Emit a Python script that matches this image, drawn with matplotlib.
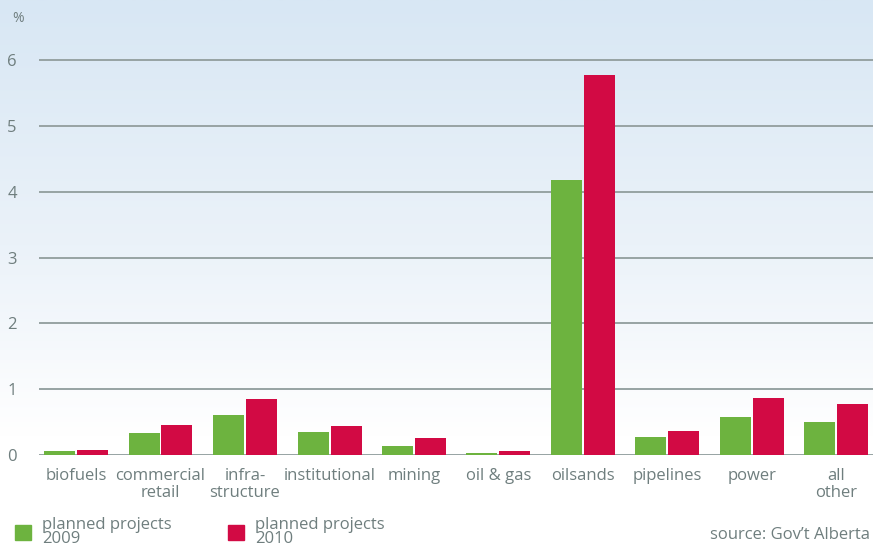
import numpy as np
import matplotlib
matplotlib.use("Agg")
import matplotlib.pyplot as plt
from matplotlib.patches import Rectangle
from matplotlib.colors import LinearSegmentedColormap

categories = ["biofuels", "commercial\nretail", "infra-\nstructure", "institutional",
              "mining", "oil & gas", "oilsands", "pipelines", "power", "all\nother"]
values_2009 = [0.06, 0.34, 0.61, 0.35, 0.14, 0.03, 4.18, 0.27, 0.58, 0.50]
values_2010 = [0.08, 0.46, 0.85, 0.44, 0.26, 0.06, 5.77, 0.36, 0.87, 0.78]
yticks = [0, 1, 2, 3, 4, 5, 6]
series_labels = ["planned projects\n2009", "planned projects\n2010"]

GREEN = "#6db33f"
RED = "#d20a44"
TXT = "#6f7e7e"
GRID = "#97a3a3"
FONT = ["Open Sans", "DejaVu Sans"]
plt.rcParams["font.family"] = FONT

W, H = 873, 546
fig = plt.figure(figsize=(W / 100, H / 100), dpi=100)

# gradient background
bg = fig.add_axes([0, 0, 1, 1], zorder=0)
grad = np.linspace(0, 1, 256).reshape(-1, 1)
cmap = LinearSegmentedColormap.from_list("bg", [(0, "#d8e7f4"), (0.45, "#ebf2f9"), (0.8, "#ffffff"), (1, "#ffffff")])
bg.imshow(grad, aspect="auto", cmap=cmap, extent=[0, 1, 0, 1], origin="upper")
bg.set_axis_off()

ax_left = 39 / W
ax_bottom = (H - 455) / H
ax = fig.add_axes([ax_left, ax_bottom, 1 - ax_left, 455 / H], zorder=1)
ax.patch.set_alpha(0)
ppu = 455 - 60  # pixels for 6 units
ax.set_ylim(0, 455 / (ppu / 6))
cat_px = 84.5
first_center = 76
ax.set_xlim(-(first_center - 39) / cat_px, (W - first_center) / cat_px)

x = np.arange(len(categories))
bw = 31 / cat_px
off = 16.5 / cat_px
ax.bar(x - off, values_2009, width=bw, color=GREEN, zorder=3)
ax.bar(x + off, values_2010, width=bw, color=RED, zorder=3)

for t in yticks:
    ax.axhline(t, color=GRID, lw=1.4, zorder=2)

for s in ax.spines.values():
    s.set_visible(False)
ax.set_yticks(yticks)
ax.set_yticklabels([str(t) for t in yticks])
ax.tick_params(axis="y", length=0, pad=16, labelsize=12, labelcolor=TXT)
ax.set_xticks(x)
ax.set_xticklabels(categories, linespacing=1.15)
ax.tick_params(axis="x", length=0, pad=9, labelsize=12, labelcolor=TXT)

fig.text(12 / W, 1 - 18 / H, "%", fontsize=10, color=TXT, va="center", ha="left")

# legend
for xs, col, lab in [(15, GREEN, series_labels[0]), (228, RED, series_labels[1])]:
    fig.patches.append(Rectangle((xs / W, (H - 540) / H), 16 / W, 15 / H,
                                 transform=fig.transFigure, color=col))
    fig.text((xs + 27) / W, (H - 532) / H, lab, fontsize=12, color=TXT,
             va="center", ha="left", linespacing=0.85)

fig.text(870 / W, (H - 535) / H, "source: Gov\u2019t Alberta", fontsize=12,
         color=TXT, va="center", ha="right")

fig.savefig("out.png", dpi=100)
